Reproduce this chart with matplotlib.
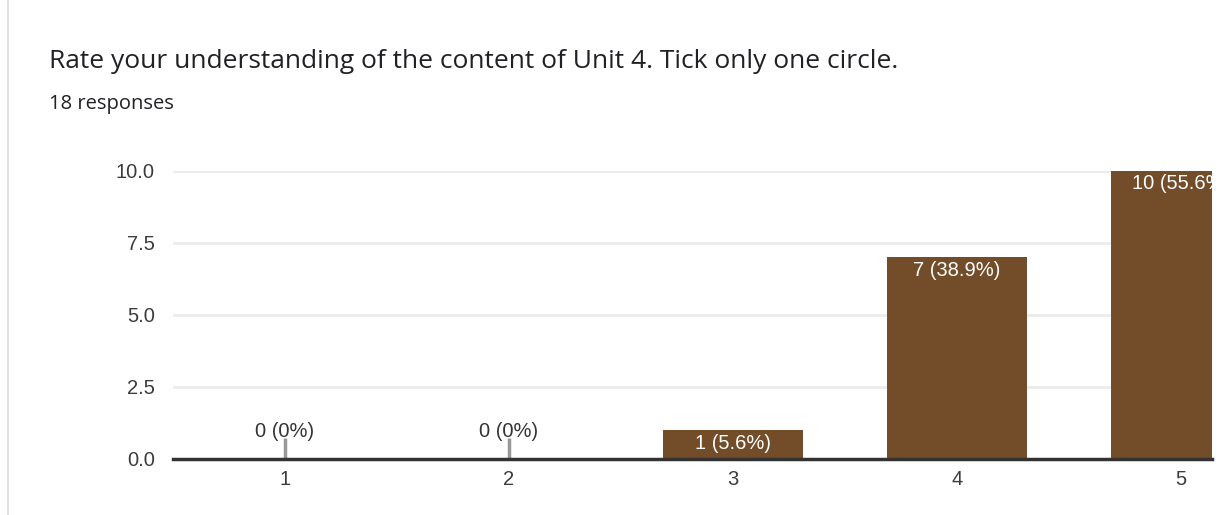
import matplotlib.pyplot as plt
from matplotlib.lines import Line2D

plt.rcParams['font.family'] = ['Liberation Sans', 'DejaVu Sans']

categories = ['1', '2', '3', '4', '5']
counts = [0, 0, 1, 7, 10]
total = 18
yticks = [0.0, 2.5, 5.0, 7.5, 10.0]

bar_color = '#734c2a'
W, H = 1222, 515

fig = plt.figure(figsize=(W / 100, H / 100), dpi=100)

# plot area in pixels: left 173, right 1212 (clipped), top 171, bottom 459
left, right, top, bottom = 173, 1212, 171, 459
ax = fig.add_axes([left / W, 1 - bottom / H, (right - left) / W, (bottom - top) / H])

step = 224
x = list(range(1, len(categories) + 1))
ax.set_xlim(0.5, 0.5 + (right - left) / step)
ax.set_ylim(0, 10)

ax.bar(x, counts, width=0.625, color=bar_color, zorder=3)

for xi, c in zip(x, counts):
    pct = c / total * 100
    ptxt = f'{pct:.1f}%' if c else '0%'
    label = f'{c} ({ptxt})'
    if c == 0:
        ax.plot([xi, xi], [0, 0.72], color='#999999', lw=2.5, zorder=4,
                solid_capstyle='butt')
        ax.text(xi, 0.62, label, ha='center', va='bottom', fontsize=14.5,
                color='#333333')
    else:
        ax.text(xi, c - 0.12, label, ha='center', va='top', fontsize=14.5,
                color='white', clip_on=True, zorder=5)

ax.set_yticks(yticks)
ax.set_yticklabels([f'{t:.1f}' for t in yticks])
ax.set_xticks(x)
ax.set_xticklabels(categories)
ax.tick_params(axis='both', length=0, labelsize=14.5, labelcolor='#3c3c3c')
ax.tick_params(axis='y', pad=13)
ax.tick_params(axis='x', pad=8)
ax.grid(axis='y', color='#ebebeb', lw=2, zorder=0)
for s in ['top', 'right', 'left']:
    ax.spines[s].set_visible(False)
ax.spines['bottom'].set_color('#333333')
ax.spines['bottom'].set_linewidth(2.5)
ax.spines['bottom'].set_zorder(6)

# card border on the left
fig.add_artist(Line2D([8 / W, 8 / W], [0, 1], color='#dadce0', lw=1.2))

fig.text(49 / W, 1 - 61 / H, 'Rate your understanding of the content of Unit 4. Tick only one circle.',
         fontsize=19, color='#202124', va='center', ha='left',
         family=['Open Sans', 'DejaVu Sans'])
fig.text(49 / W, 1 - 104 / H, '18 responses', fontsize=14.5, color='#202124',
         va='center', ha='left', family=['Open Sans', 'DejaVu Sans'])

fig.savefig('out.png', dpi=100, facecolor='white')
